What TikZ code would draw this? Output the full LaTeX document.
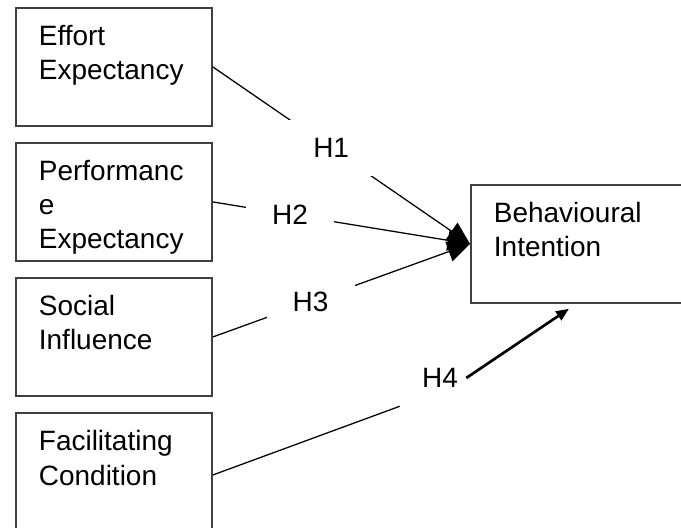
\documentclass[tikz,border=0pt]{standalone}
\usepackage{fontspec}
\setmainfont{Liberation Sans}
\usetikzlibrary{arrows.meta, positioning}

\begin{document}
\begin{tikzpicture}[
        node distance=0.38cm,
        box/.style={rectangle, draw=black!75, line width=1.3pt, align=left, text width=3.75cm, inner xsep=0.575cm, inner ysep=0.45cm, text height=0.5cm, text depth=1.55cm, font=\fontsize{19.9}{24.2}\selectfont},
        hyp/.style={fill=white, minimum width=2.2cm, minimum height=1.4cm, inner sep=0pt, font=\fontsize{19.9}{24.2}\selectfont},
        arrow/.style={-{Triangle[length=0.56cm, width=0.52cm]}, line width=0.9pt},
        link/.style={line width=0.9pt},
        boldarrow/.style={-{Triangle[length=0.32cm, width=0.26cm]}, line width=1.9pt},
    ]
        \useasboundingbox (0,0) rectangle (17.025,-13.2);
        \node[box, anchor=north west] (effort) at (0.375,-0.175) {Effort\\Expectancy};
        \node[box, below=of effort] (perf) {Performanc\\e\\Expectancy};
        \node[box, below=of perf] (social) {Social\\Influence};
        \node[box, below=of social, text depth=1.7cm] (facil) {Facilitating\\Condition};
        \node[box, anchor=north west, text width=4.2cm] (intent) at (11.75,-4.6) {Behavioural\\Intention};

        \draw[arrow] (effort.east) -- node[hyp, pos=0.46] (h1) {H1} (intent.west);
        \draw[arrow] (perf.east) -- node[hyp, pos=0.3] (h2) {H2} (intent.west);
        \draw[arrow] (social.east) -- node[hyp, pos=0.38] (h3) {H3} (intent.west);

        \node[hyp, minimum width=1.3cm] (h4) at (11,-9.45) {H4};
        \draw[link] (facil.east) -- ([xshift=-0.35cm]h4.south west);
        \draw[boldarrow] (h4.east) -- ([xshift=-0.225cm, yshift=-0.125cm]intent.south);
    \end{tikzpicture}
\end{document}
